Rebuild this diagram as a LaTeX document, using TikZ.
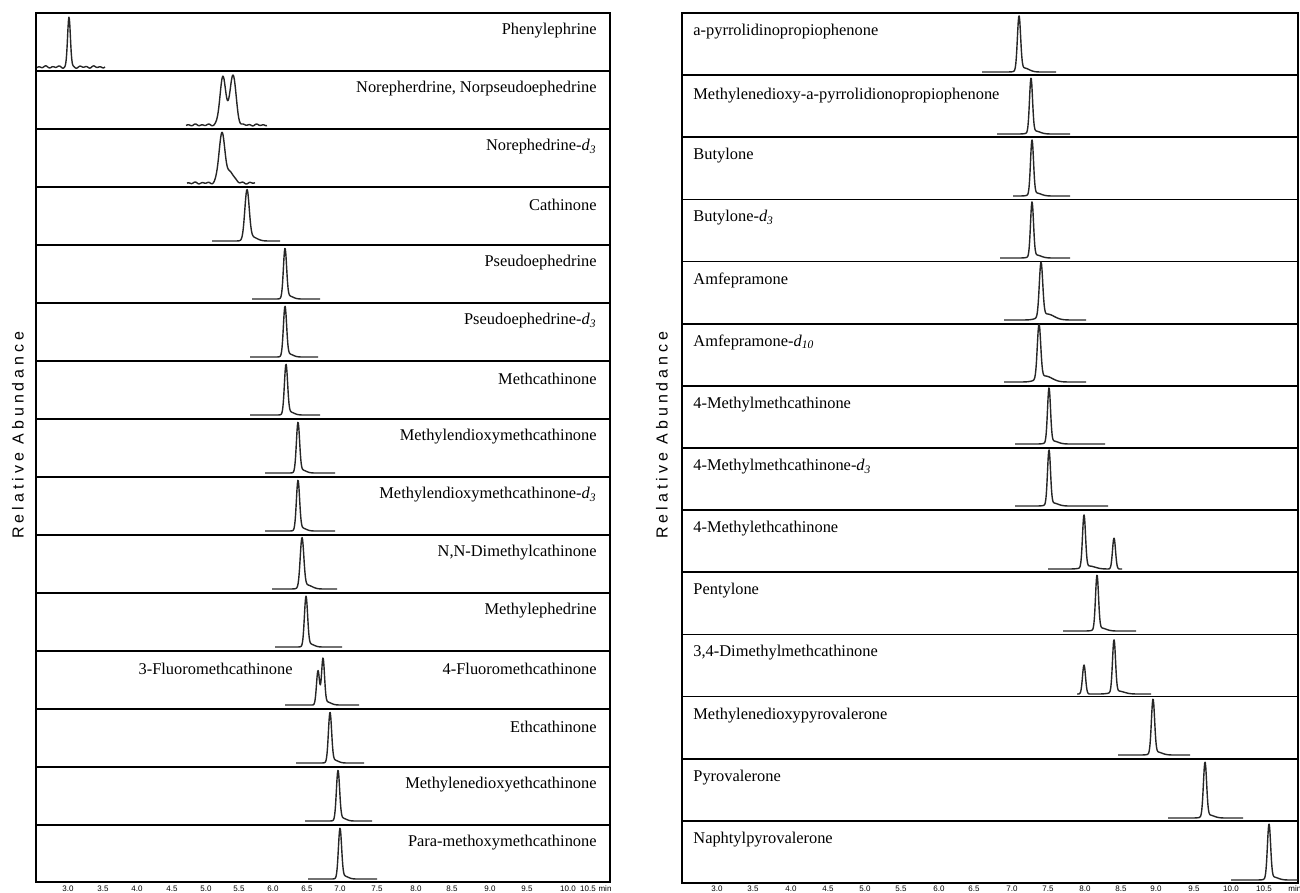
\documentclass[tikz,border=0pt]{standalone}
\usepackage{fontspec}
\setmainfont{Liberation Serif}
\newfontfamily\abundfont[LetterSpace=25]{Liberation Sans}
\newfontfamily\tickfont{Liberation Sans}
\newcommand{\dsub}[1]{\textit{d}\textsubscript{\textit{#1}}}

\begin{document}
\begin{tikzpicture}[
    x=0.5pt, y=-0.5pt,
    panel/.style = {draw, line width=1.1pt},
    divider/.style = {line width=0.6pt},
    trace/.style = {line width=0.7pt, black!85, line join=round},
    compound/.style = {font=\fontsize{8.2}{9}\selectfont, inner sep=0pt},
    tick/.style = {font=\tickfont\fontsize{4}{5}\selectfont, inner sep=0pt},
    abund/.style = {font=\abundfont\fontsize{8}{9}\selectfont, rotate=90, inner sep=0pt},
    declare function = {pk(\x,\c,\s) = exp(max(-30,-0.5*((\x-\c)/\s)^2));}
    ]
    \useasboundingbox (0,0) rectangle (1300,893);

    % left panel
    \foreach \k in {1,...,14}
      \draw[divider] (36,13+58*\k) -- (610,13+58*\k);
    \draw[panel] (36,13) rectangle (610,882);

    \draw[trace] plot[domain=37:105, samples=150] (\x, {67 - 50*pk(\x,69,1.4) + 0.7*sin(\x*53) + 0.5*sin(\x*29+40)});
    \draw[trace] plot[domain=186:267, samples=150] (\x, {125 - 48*pk(\x,223,3) - 50*pk(\x,233,3) + 0.6*sin(\x*53) + 0.4*sin(\x*29)});
    \draw[trace] plot[domain=187:255, samples=150] (\x, {183 - 50*pk(\x,222,3) - 10*pk(\x,231,3.5) + 0.6*sin(\x*53) + 0.4*sin(\x*31)});
    \draw[trace] plot[domain=212:280, samples=150] (\x, {241 - 49*pk(\x,247,2.2) - 4*pk(\x,252,5)});
    \draw[trace] plot[domain=252:320, samples=150] (\x, {299 - 49*pk(\x,285,1.6) - 3*pk(\x,289,4)});
    \draw[trace] plot[domain=250:318, samples=150] (\x, {357 - 49*pk(\x,285,1.6) - 3*pk(\x,289,4)});
    \draw[trace] plot[domain=250:320, samples=150] (\x, {415 - 49*pk(\x,286,1.6) - 3*pk(\x,290,4)});
    \draw[trace] plot[domain=265:335, samples=150] (\x, {473 - 49*pk(\x,298,1.6) - 3*pk(\x,302,4)});
    \draw[trace] plot[domain=265:335, samples=150] (\x, {531 - 49*pk(\x,298,1.6) - 3*pk(\x,302,4)});
    \draw[trace] plot[domain=272:337, samples=150] (\x, {589 - 49*pk(\x,302,1.8) - 4*pk(\x,307,5)});
    \draw[trace] plot[domain=275:342, samples=150] (\x, {647 - 49*pk(\x,306,1.6) - 3*pk(\x,310,4)});
    \draw[trace] plot[domain=285:359, samples=200] (\x, {705 - 34*pk(\x,318,1.5) - 45*pk(\x,323,1.5) - 3*pk(\x,327,4)});
    \draw[trace] plot[domain=296:364, samples=150] (\x, {763 - 49*pk(\x,330,1.6) - 3*pk(\x,334,4)});
    \draw[trace] plot[domain=305:372, samples=150] (\x, {821 - 49*pk(\x,338,1.6) - 3*pk(\x,342,4)});
    \draw[trace] plot[domain=308:377, samples=150] (\x, {879 - 49*pk(\x,340,1.6) - 3*pk(\x,344,4)});

    \node[compound, anchor=east] (phe) at (597,31) {Phenylephrine};
    \node[compound, anchor=east] (nor) at (597,89) {Norepherdrine, Norpseudoephedrine};
    \node[compound, anchor=east] (nord) at (597,147) {Norephedrine-\dsub{3}};
    \node[compound, anchor=east] (cat) at (597,205) {Cathinone};
    \node[compound, anchor=east] (pse) at (597,263) {Pseudoephedrine};
    \node[compound, anchor=east] (psed) at (597,321) {Pseudoephedrine-\dsub{3}};
    \node[compound, anchor=east] (mca) at (597,379) {Methcathinone};
    \node[compound, anchor=east] (mdmc) at (597,437) {Methylendioxymethcathinone};
    \node[compound, anchor=east] (mdmcd) at (597,495) {Methylendioxymethcathinone-\dsub{3}};
    \node[compound, anchor=east] (dmc) at (597,553) {N,N-Dimethylcathinone};
    \node[compound, anchor=east] (mep) at (597,611) {Methylephedrine};
    \node[compound, anchor=east] (fmc3) at (293,669) {3-Fluoromethcathinone};
    \node[compound, anchor=east] (fmc4) at (597,669) {4-Fluoromethcathinone};
    \node[compound, anchor=east] (etc) at (597,727) {Ethcathinone};
    \node[compound, anchor=east] (mdec) at (597,785) {Methylenedioxyethcathinone};
    \node[compound, anchor=east] (pmmc) at (597,843) {Para-methoxymethcathinone};

    \foreach \t/\p in {3.0/68, 3.5/103, 4.0/137, 4.5/172, 5.0/206, 5.5/239, 6.0/273,
        6.5/307, 7.0/340, 7.5/377, 8.0/416, 8.5/452, 9.0/490, 9.5/527, 10.0/568, 10.5/588}
      \node[tick] (lt\p) at (\p,889) {\t};
    \node[tick] (lmin) at (605,889) {min};
    \node[abund] (lrel) at (18,435) {Relative Abundance};

    % right panel
    \foreach \k in {1,...,13}
      \draw[divider, line width=0.9pt] (682,13+62.14*\k) -- (1298,13+62.14*\k);
    \draw[panel] (682,13) rectangle (1298,883);

    \draw[trace] plot[domain=982:1056, samples=150] (\x, {72 - 54*pk(\x,1019,1.6) - 4*pk(\x,1024,5)});
    \draw[trace] plot[domain=997:1070, samples=150] (\x, {134 - 54*pk(\x,1031,1.5) - 3*pk(\x,1035,5)});
    \draw[trace] plot[domain=1013:1070, samples=150] (\x, {196 - 54*pk(\x,1032,1.5) - 3*pk(\x,1036,5)});
    \draw[trace] plot[domain=1000:1070, samples=150] (\x, {258 - 54*pk(\x,1032,1.5) - 3*pk(\x,1036,5)});
    \draw[trace] plot[domain=1004:1086, samples=150] (\x, {320 - 54*pk(\x,1041,1.7) - 6*pk(\x,1047,7)});
    \draw[trace] plot[domain=1004:1086, samples=150] (\x, {382 - 54*pk(\x,1039,1.7) - 6*pk(\x,1045,7)});
    \draw[trace] plot[domain=1015:1105, samples=200] (\x, {444 - 54*pk(\x,1049,1.5) - 3*pk(\x,1053,5)});
    \draw[trace] plot[domain=1015:1108, samples=200] (\x, {506 - 54*pk(\x,1049,1.5) - 3*pk(\x,1053,5)});
    \draw[trace] plot[domain=1048:1122, samples=200] (\x, {569 - 52*pk(\x,1084,1.5) - 31*pk(\x,1114,1.5) - 3*pk(\x,1089,6)});
    \draw[trace] plot[domain=1063:1136, samples=150] (\x, {631 - 54*pk(\x,1097,1.5) - 3*pk(\x,1101,5)});
    \draw[trace] plot[domain=1077:1151, samples=200] (\x, {694 - 29*pk(\x,1084,1.5) - 52*pk(\x,1114,1.5) - 3*pk(\x,1118,6)});
    \draw[trace] plot[domain=1118:1190, samples=150] (\x, {755 - 54*pk(\x,1153,1.6) - 3*pk(\x,1157,5)});
    \draw[trace] plot[domain=1168:1243, samples=150] (\x, {818 - 54*pk(\x,1205,1.6) - 3*pk(\x,1209,5)});
    \draw[trace] plot[domain=1231:1298, samples=150] (\x, {880 - 54*pk(\x,1269,1.6) - 3*pk(\x,1273,5)});

    \node[compound, anchor=west] (appp) at (693,32) {a-pyrrolidinopropiophenone};
    \node[compound, anchor=west] (mdppp) at (693,96) {Methylenedioxy-a-pyrrolidionopropiophenone};
    \node[compound, anchor=west] (but) at (693,156) {Butylone};
    \node[compound, anchor=west] (butd) at (693,218) {Butylone-\dsub{3}};
    \node[compound, anchor=west] (amf) at (693,280) {Amfepramone};
    \node[compound, anchor=west] (amfd) at (693,342) {Amfepramone-\dsub{10}};
    \node[compound, anchor=west] (mmc) at (693,405) {4-Methylmethcathinone};
    \node[compound, anchor=west] (mmcd) at (693,467) {4-Methylmethcathinone-\dsub{3}};
    \node[compound, anchor=west] (mec) at (693,529) {4-Methylethcathinone};
    \node[compound, anchor=west] (pen) at (693,591) {Pentylone};
    \node[compound, anchor=west] (dmmc) at (693,653) {3,4-Dimethylmethcathinone};
    \node[compound, anchor=west] (mdpv) at (693,716) {Methylenedioxypyrovalerone};
    \node[compound, anchor=west] (pyr) at (693,778) {Pyrovalerone};
    \node[compound, anchor=west] (npv) at (693,840) {Naphtylpyrovalerone};

    \foreach \t/\p in {3.0/717, 3.5/753, 4.0/791, 4.5/828, 5.0/865, 5.5/901, 6.0/939,
        6.5/974, 7.0/1012, 7.5/1048, 8.0/1085, 8.5/1121, 9.0/1156, 9.5/1194, 10.0/1231, 10.5/1264}
      \node[tick] (rt\p) at (\p,889) {\t};
    \node[tick, anchor=west] (rmin) at (1288,889) {min};
    \node[abund] (rrel) at (662,435) {Relative Abundance};
\end{tikzpicture}
\end{document}
